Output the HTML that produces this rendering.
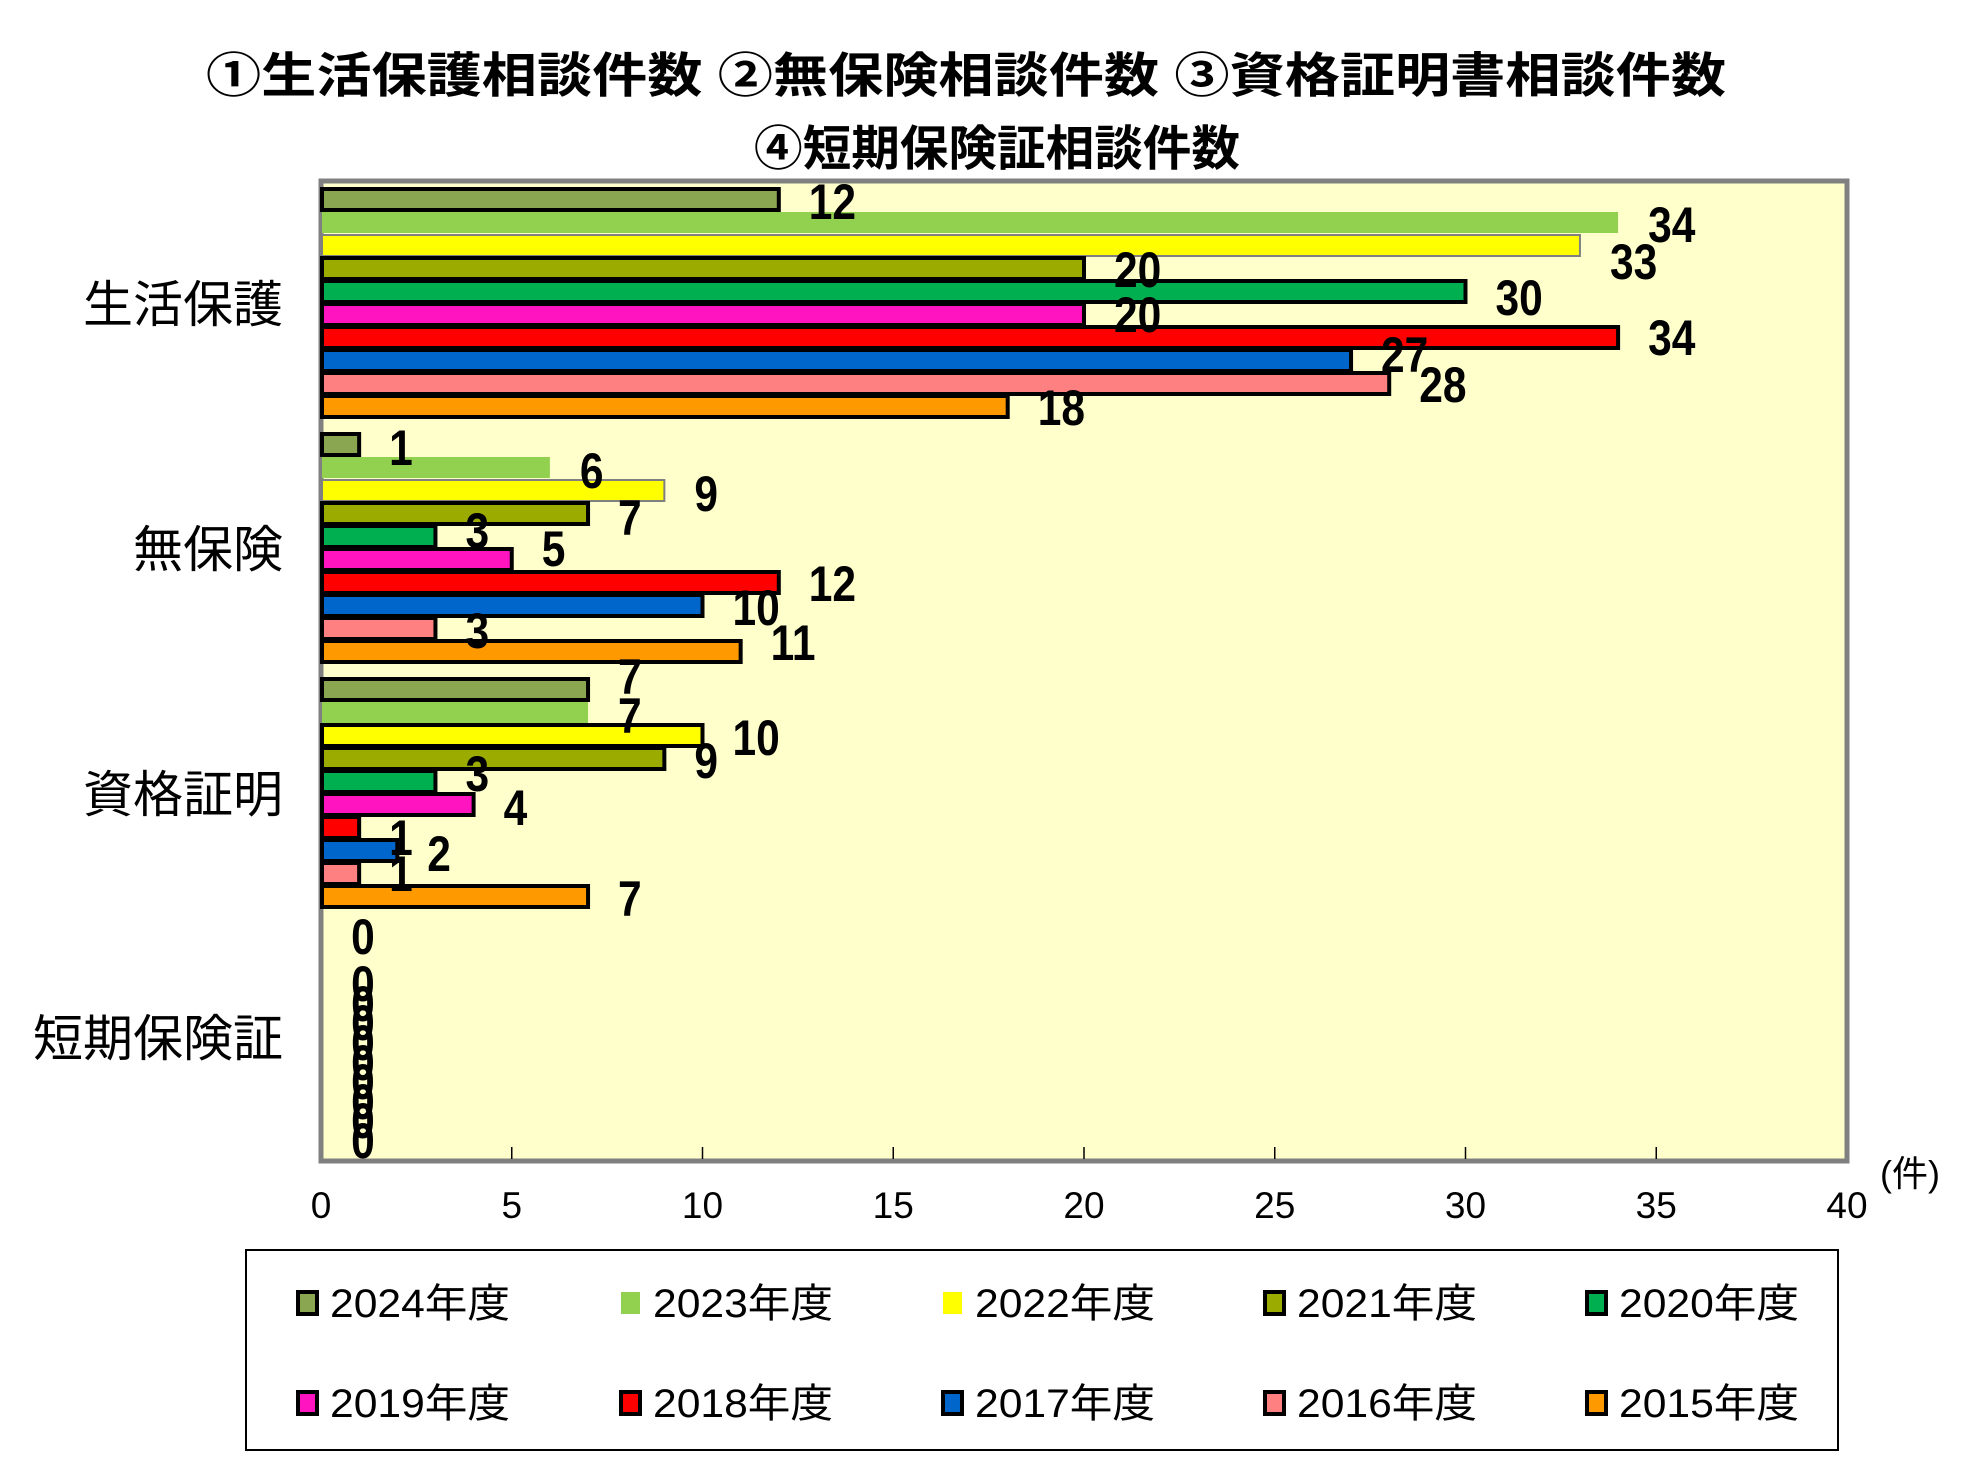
<!DOCTYPE html>
<html><head><meta charset="utf-8"><style>
html,body{margin:0;padding:0;background:#fff;}
svg{display:block;}
text{font-family:"Liberation Sans","Noto Sans CJK JP",sans-serif;}
</style></head><body>
<svg width="1967" height="1473" viewBox="0 0 1967 1473" xmlns="http://www.w3.org/2000/svg">
<text x="966" y="92" font-size="48" font-weight="bold" text-anchor="middle" textLength="1520" lengthAdjust="spacingAndGlyphs">①生活保護相談件数 ②無保険相談件数 ③資格証明書相談件数</text>
<text x="997" y="165" font-size="48" font-weight="bold" text-anchor="middle" textLength="486" lengthAdjust="spacingAndGlyphs">④短期保険証相談件数</text>
<rect x="321" y="181" width="1526" height="980" fill="#FFFFCC" stroke="#808080" stroke-width="5"/>
<g stroke="#000" stroke-width="1.5">
<line x1="511.75" y1="1147" x2="511.75" y2="1159"/><line x1="702.5" y1="1147" x2="702.5" y2="1159"/><line x1="893.25" y1="1147" x2="893.25" y2="1159"/><line x1="1084" y1="1147" x2="1084" y2="1159"/><line x1="1274.75" y1="1147" x2="1274.75" y2="1159"/><line x1="1465.5" y1="1147" x2="1465.5" y2="1159"/><line x1="1656.25" y1="1147" x2="1656.25" y2="1159"/>
</g>
<g id="bars"></g>
<g id="labels" font-weight="bold" font-size="50"></g>
<g font-size="37" text-anchor="middle">
<text x="321" y="1218">0</text><text x="511.75" y="1218">5</text><text x="702.5" y="1218">10</text><text x="893.25" y="1218">15</text><text x="1084" y="1218">20</text><text x="1274.75" y="1218">25</text><text x="1465.5" y="1218">30</text><text x="1656.25" y="1218">35</text><text x="1847" y="1218">40</text>
<text x="1910" y="1186" font-size="36">(件)</text>
</g>
<g font-size="50" text-anchor="end">
<text x="283" y="322">生活保護</text>
<text x="283" y="567">無保険</text>
<text x="283" y="812">資格証明</text>
<text x="283" y="1056">短期保険証</text>
</g>
<rect x="246" y="1250" width="1592" height="200" fill="none" stroke="#000" stroke-width="2"/>
<g id="legend" font-size="40"></g>
<script>
(function(){
var C=["#8BA650","#92D050","#FFFF00","#9BAB00","#00B050","#FF14C0","#FF0000","#0066CC","#FF8080","#FF9900"];
var Y=["2024","2023","2022","2021","2020","2019","2018","2017","2016","2015"];
var D=[[12,34,33,20,30,20,34,27,28,18],[1,6,9,7,3,5,12,10,3,11],[7,7,10,9,3,4,1,2,1,7],[0,0,0,0,0,0,0,0,0,0]];
var LY=[[201,224,261,269,297,314,337,354,384,407],[447,470,493,517,530,548,583,607,630,642],[676,715,737,760,773,807,837,853,873,898],[936,983,1003,1022,1042,1062,1081,1101,1120,1140]];
var ns="http://www.w3.org/2000/svg",b=document.getElementById("bars"),l=document.getElementById("labels"),lg=document.getElementById("legend");
function el(t,a,p){var e=document.createElementNS(ns,t);for(var k in a)e.setAttribute(k,a[k]);p.appendChild(e);return e;}
var x0=321,u=38.15;
for(var g=0;g<4;g++)for(var i=0;i<10;i++){
 var v=D[g][i],by=181+245*g+8+23*i;
 if(v>0){var st="#000",sw=4;
  if(i==1){st="none";sw=0;}
  if(i==2&&g<2){st="#808080";sw=2;}
  el("rect",{x:x0+1,y:by,width:v*u-1,height:21,fill:C[i],stroke:st,"stroke-width":sw},b);}
 var t;
 if(g==3){t=el("text",{transform:"translate(363,"+(LY[g][i]+18)+") scale(0.85,1)","text-anchor":"middle"},l);}
 else{t=el("text",{transform:"translate("+(x0+v*u+30)+","+(LY[g][i]+18)+") scale(0.85,1)"},l);}
 t.textContent=v;
}
var cx=[296,619,941,1263,1585];
for(var i=0;i<10;i++){var r=Math.floor(i/5),c=i%5,cy=[1303,1403][r];
 var bs=(i==1||i==2)?{fill:C[i]}:{fill:C[i],stroke:"#000","stroke-width":4};
 bs.x=cx[c]+2;bs.y=cy-11;bs.width=19;bs.height=22;el("rect",bs,lg);
 var t=el("text",{x:cx[c]+34,y:cy+14,textLength:180,lengthAdjust:"spacingAndGlyphs"},lg);t.textContent=Y[i]+"年度";}
})();
</script>
</svg>
</body></html>
